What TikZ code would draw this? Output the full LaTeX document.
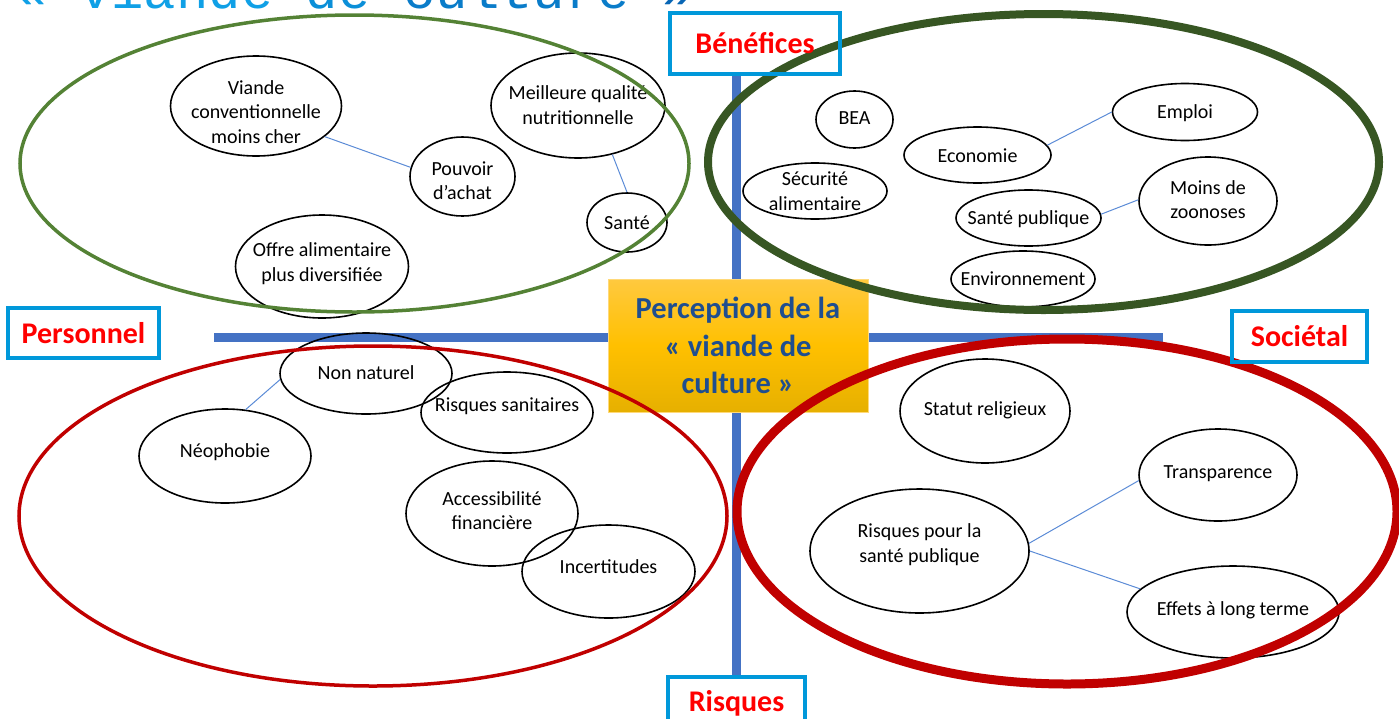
\documentclass[tikz,border=0pt]{standalone}
\usepackage{fontspec}
\setmainfont{Carlito}
\newfontfamily\monofont{Liberation Mono}
\usetikzlibrary{shapes.geometric}
\definecolor{axisblue}{HTML}{4472C4}
\definecolor{linkblue}{HTML}{5B8BD6}
\definecolor{boxblue}{HTML}{0098DA}
\definecolor{labred}{HTML}{FF0000}
\definecolor{darkred}{HTML}{C00000}
\definecolor{lgreen}{HTML}{548235}
\definecolor{dgreen}{HTML}{375623}
\definecolor{titleblue}{HTML}{1F4E8F}
\definecolor{goldtop}{HTML}{FFC93F}
\definecolor{goldmid}{HTML}{FFC000}
\definecolor{goldbot}{HTML}{E6B000}
\definecolor{tA}{HTML}{10A0E6}
\definecolor{tB}{HTML}{0B8FD8}
\definecolor{tC}{HTML}{0A7CC9}
\definecolor{tD}{HTML}{0866B5}
\begin{document}
\begin{tikzpicture}[x=1pt,y=-1pt,
  bub/.style={draw=black, line width=1.6pt, ellipse, inner sep=0pt},
  txt/.style={align=center, font=\fontsize{20}{24.4}\selectfont, text=black, inner sep=0pt},
  link/.style={draw=linkblue, line width=1pt},
  axisline/.style={draw=axisblue, line width=9pt},
  lab/.style={draw=boxblue, line width=3.5pt, text=labred, inner sep=0pt,
    font=\bfseries\fontsize{30}{36}\selectfont}]
\useasboundingbox (0,0) rectangle (1399,718);
\clip (0,0) rectangle (1399,718);

% cut-off heading
\node[anchor=base west, inner sep=0pt, font=\monofont\fontsize{54}{60}\selectfont] (ttl) at (14,8)
  {\textcolor{tA}{« viande} \textcolor{tB}{de} \textcolor{tC}{culture} \textcolor{tD}{»}};

% axes
\coordinate (axT) at (736,74);
\coordinate (axB) at (736,677);
\coordinate (axL) at (214,337);
\coordinate (axR) at (1163,337);
\draw[axisline] (axT) -- (axB);
\draw[axisline] (axL) -- (axR);

% central box
\node[draw=goldtop!70!white, line width=0.8pt, top color=goldtop, bottom color=goldbot, middle color=goldmid,
  minimum width=260pt, minimum height=133pt, inner sep=0pt, align=center, text=titleblue,
  font=\bfseries\fontsize{30.5}{37.5}\selectfont] (core) at (738,345.5)
  {Perception de la\\« viande de\\culture »};

% top-left quadrant
\node[bub, minimum width=171pt, minimum height=100pt] (vcm) at (256,106) {};
\node[txt] (vcmT) at (256,112) {Viande\\conventionnelle\\moins cher};
\node[bub, minimum width=105pt, minimum height=79pt] (pa) at (462.5,176.5) {};
\node[txt] (paT) at (462.5,180.5) {Pouvoir\\d’achat};
\node[bub, minimum width=174pt, minimum height=105pt] (mq) at (578,105.5) {};
\node[txt] (mqT) at (578,105) {Meilleure qualité\\nutritionnelle};
\node[bub, minimum width=80pt, minimum height=59pt] (sa) at (627,222.5) {};
\node[txt] (saT) at (627,223) {Santé};
\node[bub, minimum width=173pt, minimum height=103pt] (oa) at (322,266.5) {};
\node[txt] (oaT) at (322,263.5) {Offre alimentaire\\plus diversifiée};

% top-right quadrant
\node[bub, minimum width=77pt, minimum height=57pt] (bea) at (854.5,119.5) {};
\node[txt] (beaT) at (854.5,118) {BEA};
\node[bub, minimum width=147pt, minimum height=56pt] (eco) at (977.5,155) {};
\node[txt] (ecoT) at (977.5,156) {Economie};
\node[bub, minimum width=145pt, minimum height=57pt] (emp) at (1185,112) {};
\node[txt] (empT) at (1185,113) {Emploi};
\node[bub, minimum width=144pt, minimum height=56pt] (sec) at (815,191) {};
\node[txt] (secT) at (815,191) {Sécurité\\alimentaire};
\node[bub, minimum width=145pt, minimum height=56pt] (sp) at (1028.5,218) {};
\node[txt] (spT) at (1028.5,219) {Santé publique};
\node[bub, minimum width=138pt, minimum height=88pt] (mdz) at (1208,201) {};
\node[txt] (mdzT) at (1208,199.5) {Moins de\\zoonoses};
\node[bub, minimum width=144pt, minimum height=56pt] (env) at (1023,279) {};
\node[txt] (envT) at (1023,279) {Environnement};

% bottom-left quadrant
\node[bub, minimum width=172pt, minimum height=81pt] (nn) at (366,373.5) {};
\node[txt] (nnT) at (366,373) {Non naturel};
\node[bub, minimum width=172pt, minimum height=81pt] (rs) at (507,412.5) {};
\node[txt] (rsT) at (507,406) {Risques sanitaires};
\node[bub, minimum width=172pt, minimum height=94pt] (neo) at (225,456) {};
\node[txt] (neoT) at (225,452) {Néophobie};
\node[bub, minimum width=172pt, minimum height=105pt] (acc) at (492,513.5) {};
\node[txt] (accT) at (492,510.5) {Accessibilité\\financière};
\node[bub, minimum width=173pt, minimum height=93pt] (inc) at (608.5,571.5) {};
\node[txt] (incT) at (608.5,567) {Incertitudes};

% bottom-right quadrant
\node[bub, minimum width=170pt, minimum height=104pt] (sr) at (985,411) {};
\node[txt] (srT) at (985,410) {Statut religieux};
\node[bub, minimum width=158pt, minimum height=92pt] (tr) at (1218,475) {};
\node[txt] (trT) at (1218,474) {Transparence};
\node[bub, minimum width=219pt, minimum height=124pt] (rsp) at (919.5,551) {};
\node[txt] (rspT) at (919.5,544.5) {Risques pour la\\santé publique};
\node[bub, minimum width=212pt, minimum height=92pt] (eff) at (1233,612) {};
\node[txt] (effT) at (1233,610.5) {Effets à long terme};

% links
\draw[link] (vcm.-24) -- (pa.170);
\draw[link] (mq.-55) -- (sa.north);
\draw[link] (eco.8) -- (emp.west);
\draw[link] (sp.3) -- (mdz.179);
\draw[link] (nn.184) -- (neo.66);
\draw[link] (rsp.4) -- (tr.184);
\draw[link] (rsp.east) -- (eff.166);

% group ellipses
\draw[lgreen, line width=3.5pt] (354.5,163.5) ellipse [x radius=334.5pt, y radius=148.5pt];
\draw[dgreen, line width=8pt] (1043.5,162) ellipse [x radius=335.5pt, y radius=148pt];
\draw[darkred, line width=3.5pt] (373,516) ellipse [x radius=354pt, y radius=170pt];
\draw[darkred, line width=9pt] (1067,511.5) ellipse [x radius=330pt, y radius=172.5pt];

% axis labels
\node[lab, minimum width=170pt, minimum height=61pt] (bene) at (755,43.5) {Bénéfices};
\node[lab, minimum width=151pt, minimum height=50pt] (pers) at (83.5,333) {Personnel};
\node[lab, minimum width=135pt, minimum height=51pt] (soc) at (1299.5,336.5) {Sociétal};
\node[lab, minimum width=137pt, minimum height=53pt] (risq) at (736.5,703.5) {Risques};
\end{tikzpicture}
\end{document}
